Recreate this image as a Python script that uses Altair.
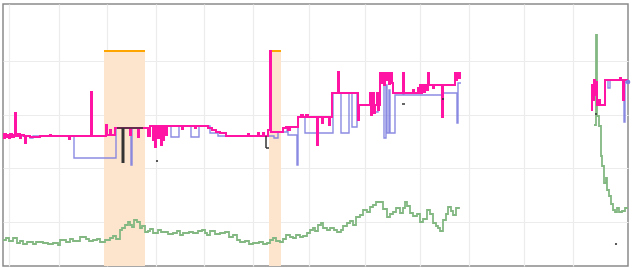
import altair as alt
import pandas as pd

# ---------------- data (x = day index, y = level) ----------------
grid_x = [6, 56, 104, 153, 201, 250, 306, 362, 417, 466, 521, 570]
grid_y = [44, 98, 151, 205]

# shaded periods
shade_start = [101, 266]
shade_end = [142, 278]
shade_bottom = [0, 0]
shade_top = [215, 215]

pink_a_x = [0, 1, 2, 3, 4, 6, 7, 9, 11, 12, 13, 15, 17, 18, 21, 22, 23, 27, 37, 47, 48, 66, 67, 88, 89,
            103, 104, 107, 108, 112, 127, 128, 135, 136, 145, 147, 150, 151, 152, 153, 155, 156, 158,
            159, 160, 161, 163, 164, 179, 180, 192, 193, 202, 205, 209, 213, 217, 223, 245, 246, 255,
            256, 260, 261, 265, 267, 268, 280, 283, 285, 287, 295, 298, 300, 303, 305, 314, 315, 319,
            320, 326, 327, 329, 335, 336, 355, 356, 367, 368, 369, 370, 371, 372, 374, 375, 376, 377,
            378, 379, 381, 382, 383, 384, 386, 387, 389, 390, 400, 401, 410, 411, 415, 416, 417, 418,
            419, 421, 422, 424, 425, 426, 430, 431, 439, 440, 452, 453, 454, 456, 457, 458]
pink_a_y = [132, 128, 132, 129, 131, 128, 132, 129, 131, 153, 130, 132, 128, 131, 130, 123, 130, 129, 130,
            131, 130, 127, 130, 174, 130, 141, 131, 136, 131, 138, 131, 138, 129, 138, 130, 140, 126,
            140, 119, 140, 128, 140, 121, 140, 126, 140, 131, 140, 137, 140, 138, 140, 140, 138, 136,
            134, 133, 130, 132, 130, 133, 130, 133, 130, 136, 215, 134, 138, 139, 136, 139, 149, 151,
            149, 151, 149, 121, 149, 143, 149, 141, 149, 173, 194, 173, 146, 161, 173, 151, 161, 173,
            153, 161, 173, 156, 161, 193, 183, 193, 181, 193, 186, 193, 182, 193, 183, 173, 193, 173,
            176, 173, 178, 173, 181, 173, 181, 174, 181, 176, 193, 181, 178, 181, 149, 181, 193, 186,
            193, 188, 193, 193]

pink_b_x = [588, 589, 590, 591, 592, 593, 594, 595, 597, 602, 617, 618, 620, 621, 625]
pink_b_y = [156, 181, 166, 186, 171, 184, 161, 166, 161, 186, 188, 186, 166, 186, 186]

blue_a_x = [0, 27, 30, 71, 113, 128, 129, 145, 147, 168, 176, 188, 196, 202, 207, 215, 271, 275, 284,
            285, 294, 295, 302, 330, 338, 346, 349, 354, 355, 356, 372, 375, 377, 380, 381, 383, 384,
            386, 387, 392, 400, 401, 439, 440, 454, 455, 458]
blue_a_y = [130, 128, 130, 108, 138, 101, 138, 131, 140, 129, 140, 129, 140, 140, 133, 130, 128, 134, 136,
            131, 101, 149, 133, 173, 133, 173, 139, 173, 146, 161, 154, 161, 193, 183, 128, 181, 133,
            176, 133, 171, 193, 171, 149, 173, 143, 183, 183]

blue_b_x = [588, 591, 594, 602, 605, 607, 621, 622, 625]
blue_b_y = [166, 181, 161, 186, 178, 186, 144, 184, 184]

green_a_x = [0, 3, 6, 10, 14, 17, 20, 24, 30, 33, 40, 45, 50, 55, 57, 63, 67, 70, 77, 83, 86, 90, 94, 97,
             102, 107, 110, 113, 117, 119, 122, 125, 127, 129, 131, 134, 137, 139, 142, 145, 147, 150,
             155, 158, 160, 165, 170, 174, 177, 180, 186, 190, 195, 199, 202, 204, 207, 212, 217, 222,
             226, 230, 234, 237, 242, 246, 250, 256, 260, 264, 267, 270, 273, 277, 280, 283, 287, 290,
             293, 297, 300, 304, 307, 310, 312, 315, 318, 320, 324, 327, 331, 334, 338, 340, 344, 347,
             350, 353, 357, 360, 364, 367, 370, 373, 377, 380, 384, 387, 390, 393, 397, 400, 402, 404,
             407, 410, 414, 417, 420, 424, 427, 430, 433, 435, 437, 440, 443, 445, 448, 450, 453, 456]
green_a_y = [26, 28, 25, 28, 23, 25, 22, 24, 22, 24, 23, 22, 23, 21, 26, 24, 27, 25, 29, 27, 25, 26, 27, 24,
             26, 28, 30, 27, 36, 38, 41, 44, 41, 39, 46, 44, 38, 40, 34, 35, 37, 33, 36, 34, 34, 32, 33,
             35, 31, 33, 34, 33, 35, 36, 33, 31, 35, 32, 33, 34, 29, 31, 26, 24, 25, 22, 23, 24, 22, 23,
             26, 28, 25, 24, 27, 31, 29, 28, 31, 29, 30, 33, 36, 38, 35, 41, 43, 38, 36, 38, 36, 34, 36,
             40, 43, 45, 41, 49, 51, 56, 54, 59, 61, 64, 64, 57, 49, 52, 54, 58, 53, 58, 64, 60, 53, 50,
             52, 44, 47, 56, 52, 43, 40, 38, 35, 46, 52, 59, 55, 51, 58, 59]

green_b_x = [591, 593, 594, 596, 598, 599, 601, 603, 604, 606, 608, 610, 612, 614, 616, 619, 622, 625]
green_b_y = [141, 231, 150, 140, 110, 100, 83, 88, 76, 70, 62, 56, 54, 58, 54, 55, 58, 58]

# black annotation strokes (thick ones, thin ones)
thick_x1 = [120]
thick_y1 = [138]
thick_y2 = [103]
thin_x1 = [114, 263, 263, 399, 592]
thin_x2 = [140, 263, 266, 402, 594]
thin_y1 = [138, 130, 118, 162, 152]
thin_y2 = [138, 118, 118, 162, 152]
dot_x = [154, 440, 613]
dot_y = [105, 167, 22]

# ---------------- build tables ----------------
def series(parts):
    rows = []
    for seg, (xs_, ys_) in enumerate(parts):
        rows += [{"x": a, "y": b, "seg": seg} for a, b in zip(xs_, ys_)]
    return pd.DataFrame(rows)

pink = series([(pink_a_x, pink_a_y), (pink_b_x, pink_b_y)])
blue = series([(blue_a_x, blue_a_y), (blue_b_x, blue_b_y)])
green = series([(green_a_x, green_a_y), (green_b_x, green_b_y)])
shade = pd.DataFrame({"x": shade_start, "x2": shade_end, "y": shade_bottom, "top": shade_top})
thick = pd.DataFrame({"x": thick_x1, "y": thick_y1, "y2": thick_y2})
thin = pd.DataFrame({"x": thin_x1, "x2": thin_x2, "y": thin_y1, "y2": thin_y2})
dots = pd.DataFrame({"x": dot_x, "y": dot_y})
enddot = pd.DataFrame({"x": [blue_b_x[-1]], "y": [blue_b_y[-1]]})

xs = alt.Scale(domain=[0, 625], nice=False, zero=False)
ys = alt.Scale(domain=[0, 262], nice=False, zero=False)
xax = alt.Axis(values=grid_x, labels=False, ticks=False, domain=False, title=None, grid=True)
yax = alt.Axis(values=grid_y, labels=False, ticks=False, domain=False, title=None, grid=True)


def X(f="x"):
    return alt.X(f"{f}:Q", scale=xs, axis=xax)


def Y(f="y"):
    return alt.Y(f"{f}:Q", scale=ys, axis=yax)


rects = alt.Chart(shade).mark_rect(color="#fde5cd").encode(
    x=X(), x2="x2:Q", y=Y(), y2="top:Q")
tops = alt.Chart(shade).mark_rule(color="#ffa500", strokeWidth=2).encode(
    x=X(), x2="x2:Q", y=Y("top"))


def line(df, color, width, opacity=1.0):
    return alt.Chart(df).mark_line(interpolate="step-after", color=color, strokeWidth=width,
                                   opacity=opacity, clip=True).encode(
        x=X(), y=Y(), detail="seg:N")


g = line(green, "#83b883", 1.8)
b = line(blue, "#7d7ddf", 1.4, 0.9)
p = line(pink, "#ff14a3", 2.0)

bk1 = alt.Chart(thick).mark_rule(color="#333333", strokeWidth=3).encode(x=X(), y=Y(), y2="y2:Q")
bk2 = alt.Chart(thin).mark_rule(color="#333333", strokeWidth=1.5).encode(
    x=X(), x2="x2:Q", y=Y(), y2="y2:Q")
dt = alt.Chart(dots).mark_circle(color="#333333", size=5, opacity=1).encode(x=X(), y=Y())
ed = alt.Chart(enddot).mark_circle(color="#7d7ddf", size=22, opacity=1).encode(x=X(), y=Y())

chart = alt.layer(rects, tops, g, b, p, bk1, bk2, dt, ed).properties(
    width=625, height=262,
    autosize=alt.AutoSizeParams(type="none"),
    padding={"left": 3, "top": 4, "right": 5, "bottom": 2},
    background="white",
).configure_view(stroke="#8a8a8a", strokeWidth=1.5).configure_axis(
    gridColor="#ececec", gridWidth=1.2)

chart.save("out.html", embed_options={"renderer": "svg", "actions": False})
